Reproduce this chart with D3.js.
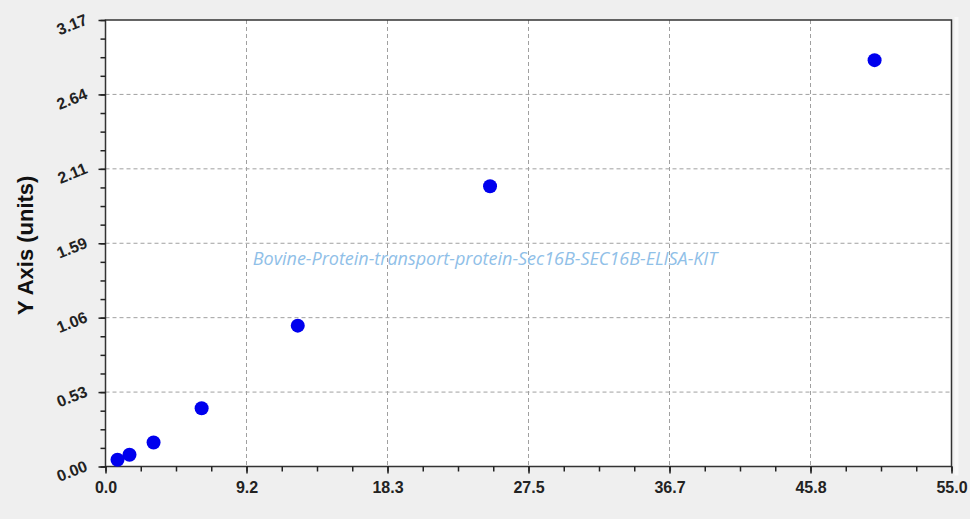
<!DOCTYPE html>
<html lang="en"><head>
<meta charset="utf-8">
<script src="https://cdn.jsdelivr.net/npm/d3@7"></script>
<style>
  html, body { margin: 0; padding: 0; background: #efefef; }
  svg { display: block; }
</style>
</head>
<body>
<script>
// standard curve
var xValues = [0.78, 1.56, 3.125, 6.25, 12.5, 25, 50];
var yValues = [0.048, 0.083, 0.17, 0.414, 1.0, 1.99, 2.885];
var xTicks = [0.0, 9.2, 18.3, 27.5, 36.7, 45.8, 55.0];
var yTicks = [0.00, 0.53, 1.06, 1.59, 2.11, 2.64, 3.17];
var yTitle = "Y Axis (units)";
var watermark = "Bovine-Protein-transport-protein-Sec16B-SEC16B-ELISA-KIT";

var width = 970, height = 519;
var pLeft = 105.5, pRight = 951.5, pTop = 20, pBottom = 466.5;

var svg = d3.select("body").append("svg")
    .attr("width", width)
    .attr("height", height);

var x = d3.scaleLinear().domain([0, 55]).range([pLeft, pRight]);
var y = d3.scaleLinear().domain([0, 3.17]).range([pBottom, pTop]);

// positions of the major ticks: evenly split, labels rounded
var xMajor = d3.range(7).map(i => i * 55 / 6);
var yMajor = d3.range(7).map(i => i * 3.17 / 6);
var xMinor = d3.range(25).map(i => i * 55 / 24);
var yMinor = d3.range(25).map(i => i * 3.17 / 24);

// light edge to the right of the plot
svg.append("rect")
    .attr("x", pRight + 3).attr("y", pTop - 3)
    .attr("width", 4).attr("height", pBottom - pTop + 12)
    .attr("fill", "#f8f8f8");

svg.append("rect")
    .attr("x", pLeft).attr("y", pTop)
    .attr("width", pRight - pLeft).attr("height", pBottom - pTop)
    .attr("fill", "#ffffff");

// grid
svg.append("g").selectAll("line")
    .data(xMajor.slice(1, -1)).enter().append("line")
    .attr("x1", d => x(d)).attr("x2", d => x(d))
    .attr("y1", pTop).attr("y2", pBottom)
    .attr("stroke", "#a0a0a0").attr("stroke-width", 1)
    .attr("stroke-dasharray", "4,3");

svg.append("g").selectAll("line")
    .data(yMajor.slice(1, -1)).enter().append("line")
    .attr("y1", d => y(d)).attr("y2", d => y(d))
    .attr("x1", pLeft).attr("x2", pRight)
    .attr("stroke", "#a0a0a0").attr("stroke-width", 1)
    .attr("stroke-dasharray", "4,3");

// frame
svg.append("rect")
    .attr("x", pLeft).attr("y", pTop)
    .attr("width", pRight - pLeft).attr("height", pBottom - pTop)
    .attr("fill", "none")
    .attr("stroke", "#333").attr("stroke-width", 1.5);

// minor ticks
svg.append("g").call(d3.axisBottom(x).tickValues(xMinor).tickSize(5).tickFormat(""))
    .attr("transform", "translate(0," + pBottom + ")")
    .call(g => g.select(".domain").remove())
    .selectAll("line").attr("stroke", "#222").attr("stroke-width", 1.5);

svg.append("g").call(d3.axisLeft(y).tickValues(yMinor).tickSize(5).tickFormat(""))
    .attr("transform", "translate(" + pLeft + ",0)")
    .call(g => g.select(".domain").remove())
    .selectAll("line").attr("stroke", "#222").attr("stroke-width", 1.5);

// major ticks + labels
var xAxis = svg.append("g")
    .attr("transform", "translate(0," + pBottom + ")")
    .call(d3.axisBottom(x).tickValues(xMajor).tickSize(7).tickPadding(8)
        .tickFormat((d, i) => xTicks[i].toFixed(1)));
xAxis.select(".domain").remove();
xAxis.selectAll("line").attr("stroke", "#222").attr("stroke-width", 1.5);
xAxis.selectAll("text")
    .attr("fill", "#222")
    .style("font-family", "'Liberation Sans', Arial, sans-serif")
    .style("font-weight", "bold")
    .style("font-size", "16px");

var yAxis = svg.append("g")
    .attr("transform", "translate(" + pLeft + ",0)")
    .call(d3.axisLeft(y).tickValues(yMajor).tickSize(7).tickPadding(11)
        .tickFormat((d, i) => yTicks[i].toFixed(2)));
yAxis.select(".domain").remove();
yAxis.selectAll("line").attr("stroke", "#222").attr("stroke-width", 1.5);
yAxis.selectAll("text")
    .attr("fill", "#222")
    .attr("dy", "0.1em")
    .attr("transform", "rotate(-22,-13,0)")
    .style("font-family", "'Liberation Sans', Arial, sans-serif")
    .style("font-weight", "bold")
    .style("font-size", "16px");

// axis title
svg.append("text")
    .attr("transform", "translate(33," + ((pTop + pBottom) / 2 + 2) + ") rotate(-90)")
    .attr("text-anchor", "middle")
    .attr("fill", "#111")
    .style("font-family", "'Liberation Sans', Arial, sans-serif")
    .style("font-weight", "bold")
    .style("font-size", "22px")
    .text(yTitle);

// watermark
svg.append("text")
    .attr("x", 485).attr("y", 265)
    .attr("text-anchor", "middle")
    .attr("fill", "#90c0e8")
    .style("font-family", "'Open Sans', sans-serif")
    .style("font-style", "italic")
    .style("font-size", "18px")
    .text(watermark);

// points
svg.append("g").selectAll("circle")
    .data(xValues.map((d, i) => [d, yValues[i]])).enter().append("circle")
    .attr("cx", d => x(d[0]))
    .attr("cy", d => y(d[1]))
    .attr("r", 7)
    .attr("fill", "#0000ee");
</script>
</body></html>
